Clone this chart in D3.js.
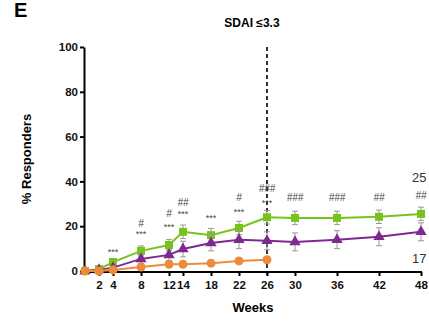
<!DOCTYPE html>
<html lang="en">
<head>
<meta charset="UTF-8">
<title>SDAI</title>
<script src="https://d3js.org/d3.v7.min.js"></script>
<style>
  body { margin: 0; background: #fff; }
  svg { display: block; font-family: "Liberation Sans", Arial, sans-serif; }
  .axis path, .axis line { stroke: #000; stroke-width: 2px; }
  .axis text { font-size: 11.5px; font-weight: bold; fill: #111; }
</style>
</head>
<body>
<svg id="chart" width="429" height="323"></svg>
<script>
// data
const weeks = [0, 2, 4, 8, 12, 14, 18, 22, 26, 30, 36, 42, 48];
const tickWeeks = [2, 4, 8, 12, 14, 18, 22, 26, 30, 36, 42, 48];
const yTicks = [0, 20, 40, 60, 80, 100];

const greenVals = [0, 0.8, 4, 9, 11.6, 17.5, 16, 19.2, 24, 23.7, 23.7, 24.2, 25.5];
const greenErr = [0, 0.5, 1, 2.2, 2.5, 3, 3, 3, 3, 3, 3, 3, 3];
const purpleVals = [0, 0.5, 1.5, 5.4, 7.2, 9.8, 12.5, 14, 13.5, 13, 14, 15.3, 17.5];
const purpleErr = [0, 0.5, 1, 2, 2.5, 3.5, 3.5, 4, 4, 4, 4, 4, 4];
const orangeWeeks = [0, 2, 4, 8, 12, 14, 18, 22, 26];
const orangeVals = [0, 0, 0.5, 1.8, 3, 3, 3.5, 4.5, 5];
const orangeErr = [0, 0, 0.3, 0.8, 1, 1, 1, 1.2, 1.2];

const annWeeks = [4, 8, 12, 14, 18, 22, 26, 30, 36, 42, 48];
const annStars = ["***", "***", "***", "***", "***", "***", "***", "", "", "", ""];
const annHash = ["", "#", "#", "##", "", "#", "###", "###", "###", "##", "##"];
const annStarY = [9, 17, 20, 26, 24, 27, 31, 0, 0, 0, 0];
const annHashY = [0, 21.5, 26, 31, 0, 33, 37, 33, 33, 33, 34];

const svg = d3.select("#chart");
const x = d3.scaleLinear().domain([0, 48]).range([85, 421]);
const y = d3.scaleLinear().domain([0, 100]).range([271, 47]);

// axes
svg.append("g").attr("class", "axis")
  .attr("transform", "translate(84,0)")
  .call(d3.axisLeft(y).tickValues(yTicks).tickSize(4).tickPadding(2).tickSizeOuter(0));

svg.append("g").attr("class", "axis")
  .attr("transform", "translate(0,272)")
  .call(d3.axisBottom(x).tickValues(tickWeeks).tickSize(4).tickPadding(5).tickSizeOuter(0))
  .call(g => g.select(".domain").attr("d", "M83,0H422"));

// dashed line at 26 weeks
svg.append("line")
  .attr("x1", x(26)).attr("x2", x(26))
  .attr("y1", y(100)).attr("y2", 277)
  .attr("stroke", "#000").attr("stroke-width", 1.6)
  .attr("stroke-dasharray", "4,3");

function series(xs, vals, errs, color, shape) {
  const pts = xs.map((w, i) => ({ w: w, v: vals[i], e: errs[i] }));
  const g = svg.append("g");
  g.selectAll(".err").data(pts.filter(d => d.e > 0.6)).enter().append("path")
    .attr("d", d => {
      const x0 = x(d.w), y1 = y(d.v + d.e), y2 = y(d.v - d.e);
      return `M${x0},${y1}V${y2}M${x0 - 3},${y1}H${x0 + 3}M${x0 - 3},${y2}H${x0 + 3}`;
    })
    .attr("stroke", "#999").attr("stroke-width", 1).attr("fill", "none");
  g.append("path").datum(pts)
    .attr("d", d3.line().x(d => x(d.w)).y(d => y(d.v)))
    .attr("stroke", color).attr("stroke-width", 2).attr("fill", "none");
  g.selectAll(".pt").data(pts).enter().append("path")
    .attr("transform", d => `translate(${x(d.w)},${y(d.v)})`)
    .attr("d", d3.symbol().type(shape).size(shape === d3.symbolTriangle ? 55 : 64))
    .attr("fill", color);
}

series(weeks, greenVals, greenErr, "#78c31b", d3.symbolSquare);
series(weeks, purpleVals, purpleErr, "#7d2a90", d3.symbolTriangle);
series(orangeWeeks, orangeVals, orangeErr, "#eb8b3b", d3.symbolCircle);

// significance marks
const ann = annWeeks.map((w, i) => ({ w: w, s: annStars[i], h: annHash[i], sy: annStarY[i], hy: annHashY[i] }));
svg.selectAll(".star").data(ann.filter(d => d.s)).enter().append("text")
  .attr("x", d => x(d.w)).attr("y", d => y(d.sy) + 4)
  .attr("text-anchor", "middle").attr("font-size", 9).attr("fill", "#444")
  .text(d => d.s);
svg.selectAll(".hash").data(ann.filter(d => d.h)).enter().append("text")
  .attr("x", d => x(d.w)).attr("y", d => y(d.hy) + 4)
  .attr("text-anchor", "middle").attr("font-size", 10).attr("font-style", "italic").attr("fill", "#444")
  .text(d => d.h);

// end labels
svg.append("text").attr("x", 412).attr("y", 182).attr("font-size", 13).attr("fill", "#333").text("25");
svg.append("text").attr("x", 412).attr("y", 263).attr("font-size", 13).attr("fill", "#333").text("17");

// titles
svg.append("text").attr("x", 14).attr("y", 17).attr("font-size", 20).attr("font-weight", "bold").text("E");
svg.append("text").attr("x", 252).attr("y", 27).attr("text-anchor", "middle")
  .attr("font-size", 12).attr("font-weight", "bold").text("SDAI ≤3.3");
svg.append("text").attr("transform", "translate(31,159) rotate(-90)")
  .attr("text-anchor", "middle").attr("font-size", 13).attr("font-weight", "bold").text("% Responders");
svg.append("text").attr("x", 253).attr("y", 312).attr("text-anchor", "middle")
  .attr("font-size", 13).attr("font-weight", "bold").text("Weeks");
</script>
</body>
</html>
